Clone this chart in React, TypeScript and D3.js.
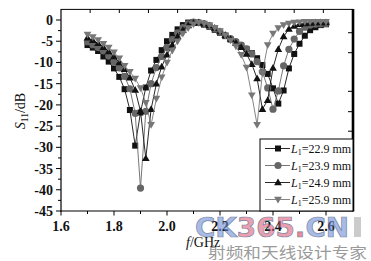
import React from "react";
import * as d3 from "d3";

const freqs = [1.70,1.72,1.74,1.76,1.78,1.80,1.82,1.84,1.86,1.88,1.90,1.92,1.94,1.96,1.98,2.00,
  2.02,2.04,2.06,2.08,2.10,2.12,2.14,2.16,2.18,2.20,2.22,2.24,2.26,2.28,2.30,
  2.32,2.34,2.36,2.38,2.40,2.42,2.44,2.46,2.48,2.50,2.52,2.54,2.56,2.58,2.60];

const s229 = [-5.9,-6.5,-7.3,-8.6,-9.8,-11.4,-13.4,-16.3,-21.2,-29.6,-21.8,-15.9,-11.9,-9.4,-7.1,-5.0,
  -3.5,-2.2,-1.2,-0.6,-0.5,-0.7,-1.1,-1.6,-2.3,-3.0,-3.8,-4.6,-5.3,-6.0,-6.8,
  -7.8,-9.0,-10.6,-12.7,-16.1,-19.7,-16.6,-11.4,-8.0,-5.6,-3.7,-2.4,-1.7,-1.2,-1.0];
const s239 = [-5.1,-5.8,-6.5,-7.3,-8.5,-9.8,-11.3,-13.3,-16.2,-22.0,-39.6,-21.5,-15.0,-11.2,-8.6,-6.5,
  -4.6,-3.0,-1.8,-0.9,-0.5,-0.6,-0.9,-1.4,-2.0,-2.8,-3.6,-4.4,-5.1,-5.9,-6.8,
  -8.0,-9.8,-12.2,-16.0,-21.0,-16.7,-10.8,-6.9,-4.5,-2.7,-1.7,-1.2,-1.0,-0.9,-0.8];
const s249 = [-4.2,-4.8,-5.5,-6.4,-7.4,-8.6,-10.0,-11.6,-13.6,-16.5,-21.5,-32.6,-21.0,-15.0,-11.0,-8.2,
  -5.9,-3.9,-2.4,-1.3,-0.7,-0.6,-0.9,-1.3,-1.9,-2.7,-3.6,-4.5,-5.4,-6.4,-8.0,
  -10.4,-13.8,-21.0,-18.9,-11.3,-6.9,-3.9,-2.1,-1.4,-1.0,-0.8,-0.7,-0.6,-0.6,-0.6];
const s259 = [-3.4,-4.0,-4.7,-5.6,-6.5,-7.6,-9.0,-10.8,-12.2,-13.8,-16.0,-19.5,-24.7,-18.5,-13.5,-10.0,
  -7.2,-5.0,-3.2,-1.9,-1.0,-0.6,-0.8,-1.2,-1.8,-2.6,-3.6,-4.8,-6.2,-8.2,-11.2,
  -17.7,-24.7,-12.5,-5.9,-3.2,-1.9,-1.2,-0.8,-0.6,-0.5,-0.4,-0.4,-0.4,-0.4,-0.4];

const seriesNames = ["22.9", "23.9", "24.9", "25.9"];
const seriesValues = [s229, s239, s249, s259];
const seriesColors = ["#111111", "#666666", "#111111", "#777777"];
const seriesMarkers = ["square", "circle", "triUp", "triDown"];

const xTicks = [1.6, 1.8, 2.0, 2.2, 2.4, 2.6];
const xMinor = [1.7, 1.9, 2.1, 2.3, 2.5];
const yTicks = [0, -5, -10, -15, -20, -25, -30, -35, -40, -45];
const yMinor = [-2.5, -7.5, -12.5, -17.5, -22.5, -27.5, -32.5, -37.5, -42.5];
const topTicks = [1.71, 1.82, 1.93, 2.04, 2.15, 2.26, 2.37, 2.48, 2.59];
const rightTicks = [-3.0, -7.7, -16.8, -21.6, -26.2];

const x = d3.scaleLinear().domain([1.6, 2.7]).range([61, 352.5]);
const y = d3.scaleLinear().domain([-45, 2.5]).range([211, 9.4]);

function Marker({ kind, cx, cy, color }: { kind: string; cx: number; cy: number; color: string }) {
  if (kind === "square") return <rect x={cx - 3} y={cy - 3} width={6} height={6} fill={color} />;
  if (kind === "circle") return <circle cx={cx} cy={cy} r={3.6} fill={color} />;
  const sym = d3.symbol().type(d3.symbolTriangle).size(26)();
  return (
    <path d={sym || ""} transform={`translate(${cx},${cy + (kind === "triDown" ? -0.5 : 0.5)}) rotate(${kind === "triDown" ? 180 : 0})`} fill={color} />
  );
}

export default function App() {
  const line = d3.line<number>().x((_, i) => x(freqs[i])).y((v) => y(v));
  const serif = "'Liberation Serif', 'Times New Roman', serif";
  const legendY = [148.5, 165.5, 182.5, 199.5];
  return (
    <svg width={371} height={261} style={{ position: "absolute", left: 0, top: 0, background: "#fff" }}>
      <rect width={371} height={261} fill="#fff" />
      {seriesValues.map((vals, si) => (
        <g key={si}>
          <path d={line(vals) || ""} fill="none" stroke={seriesColors[si]} strokeWidth={0.9} />
          {vals.map((v, i) => (
            <Marker key={i} kind={seriesMarkers[si]} cx={x(freqs[i])} cy={y(v)} color={seriesColors[si]} />
          ))}
        </g>
      ))}
      <line x1={61} x2={353} y1={9.4} y2={9.4} stroke="#000" strokeWidth={1} />
      <line x1={61} x2={61} y1={9} y2={211.5} stroke="#000" strokeWidth={1.2} />
      <line x1={60.5} x2={353} y1={211} y2={211} stroke="#000" strokeWidth={1.2} />
      <line x1={353} x2={353} y1={9} y2={211.5} stroke="#000" strokeWidth={2.6} />
      {topTicks.map((t) => (
        <line key={t} x1={x(t)} x2={x(t)} y1={9.4} y2={13} stroke="#000" strokeWidth={1} />
      ))}
      {rightTicks.map((t) => (
        <line key={t} x1={352} x2={348} y1={y(t)} y2={y(t)} stroke="#000" strokeWidth={1} />
      ))}
      {yTicks.map((t) => (
        <g key={t}>
          <line x1={56} x2={61} y1={y(t)} y2={y(t)} stroke="#000" strokeWidth={1} />
          <text x={53} y={y(t) + 5} textAnchor="end" fontFamily={serif} fontWeight="bold" fontSize={14} fill="#111">
            {t === 0 ? "0" : `-${Math.abs(t)}`}
          </text>
        </g>
      ))}
      {yMinor.map((t) => (
        <line key={t} x1={58} x2={61} y1={y(t)} y2={y(t)} stroke="#000" strokeWidth={1} />
      ))}
      {xTicks.map((t) => (
        <g key={t}>
          <line x1={x(t)} x2={x(t)} y1={211} y2={215.5} stroke="#000" strokeWidth={1} />
          <text x={x(t)} y={230.5} textAnchor="middle" fontFamily={serif} fontWeight="bold" fontSize={14} fill="#111">
            {t.toFixed(1)}
          </text>
        </g>
      ))}
      {xMinor.map((t) => (
        <line key={t} x1={x(t)} x2={x(t)} y1={211} y2={214} stroke="#000" strokeWidth={1} />
      ))}
      <text transform="translate(25,111) rotate(-90)" textAnchor="middle" fontFamily={serif} fontSize={14} fill="#111">
        <tspan fontStyle="italic">S</tspan>
        <tspan fontSize={9.5} dy={3}>11</tspan>
        <tspan dy={-3}>/dB</tspan>
      </text>
      <text x={186} y={247} fontFamily={serif} fontSize={14} fill="#111">
        <tspan fontStyle="italic">f</tspan>/GHz
      </text>
      <rect x={260} y={139} width={93} height={72} fill="#fff" stroke="#000" strokeWidth={1} />
      {seriesNames.map((n, i) => (
        <g key={n}>
          <line x1={265} x2={290} y1={legendY[i]} y2={legendY[i]} stroke={seriesColors[i]} strokeWidth={0.9} />
          <Marker kind={seriesMarkers[i]} cx={278} cy={legendY[i]} color={seriesColors[i]} />
          <text x={291} y={legendY[i] + 4} fontFamily={serif} fontSize={12} fill="#111">
            <tspan fontStyle="italic">L</tspan>
            <tspan fontSize={8} dy={2.5}>1</tspan>
            <tspan dy={-2.5}>{`=${n} mm`}</tspan>
          </text>
        </g>
      ))}
      <g opacity={0.6}>
        <text x={195} y={237} fontFamily="'DejaVu Sans', sans-serif" fontWeight="bold" fontSize={27}
          textLength={154} lengthAdjust="spacingAndGlyphs" stroke="#223366" strokeWidth={0.7}>
          <tspan fill="#6d8fd6">CK</tspan>
          <tspan fill="#e0607a">365</tspan>
          <tspan fill="#e04050">.</tspan>
          <tspan fill="#6d8fd6">CN</tspan>
        </text>
        <rect x={354} y={217} width={7} height={20} fill="#aaaaaa" />
      </g>
      <text x={208} y={258} fontFamily="'Noto Sans CJK SC', sans-serif" fontSize={15} fill="#9a9a9a"
        textLength={159} lengthAdjust="spacingAndGlyphs">
        射频和天线设计专家
      </text>
    </svg>
  );
}
